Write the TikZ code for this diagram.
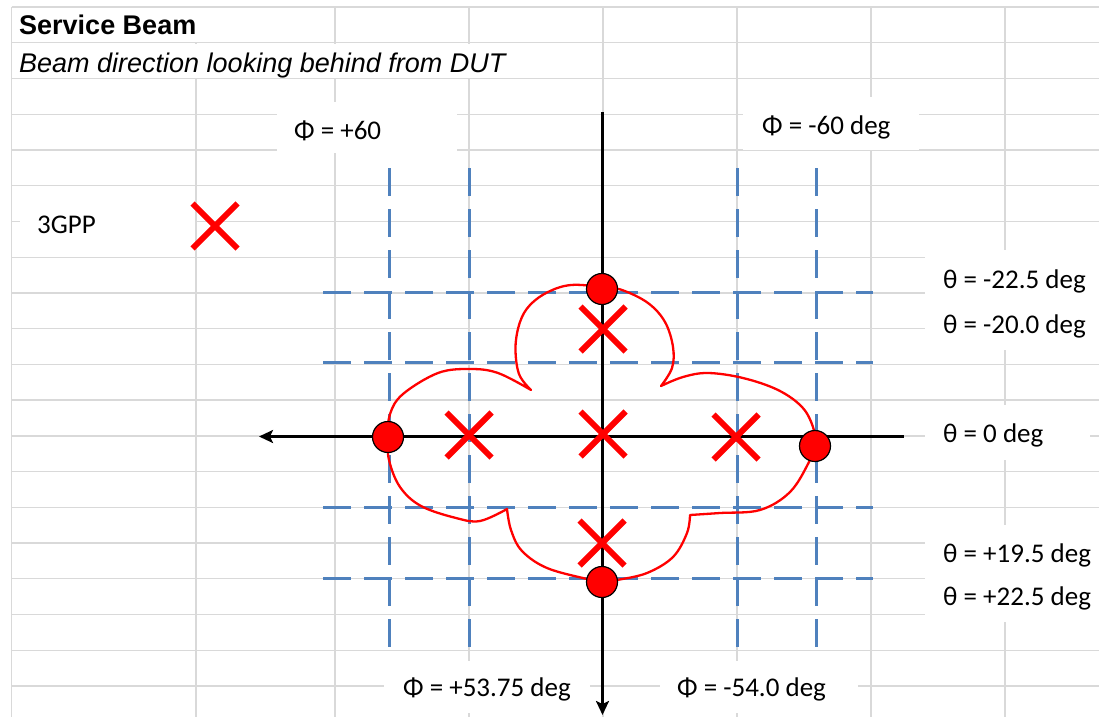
\documentclass[tikz,border=0pt]{standalone}
\usepackage{fontspec}
\setmainfont{Carlito}
\newfontfamily\arialf{Liberation Sans}
\usetikzlibrary{arrows.meta,shapes.misc}
\definecolor{gridgray}{RGB}{217,217,217}
\definecolor{beamblue}{RGB}{79,129,189}
\begin{document}
\begin{tikzpicture}[x=1pt,y=-1pt,
  gridline/.style={gridgray,line width=1.3pt},
  blank/.style={fill=white},
  lbl/.style={anchor=base west,inner sep=0pt,font=\fontsize{27}{30}\selectfont},
  beamline/.style={beamblue,line width=3pt,dash pattern=on 28pt off 13pt},
  axisline/.style={black,line width=2.5pt,-{Stealth[length=14pt,width=13pt,inset=3pt]}},
  cloudline/.style={red,line width=2.3pt,line join=round},
  xmark/.style={cross out,draw=red,line width=6pt,minimum size=39pt,inner sep=0pt},
  dot/.style={circle,fill=red,draw=black,line width=1.2pt,minimum size=31pt,inner sep=0pt}
]
\path[use as bounding box] (0,0) rectangle (1099,717);
\fill[white] (0,0) rectangle (1099,717);
% spreadsheet grid
\foreach \r in {0,...,19} \draw[gridline] (11.6,{7+35.74*\r}) -- (1099,{7+35.74*\r});
\foreach \c in {11.6,196,335,469,603,737,871,1005} \draw[gridline] (\c,7) -- (\c,717);
% cells covered by text
\fill[blank] (13,8.5) rectangle (334,42);
\fill[blank] (13,44) rectangle (602,78);
\fill[blank] (277,102) rectangle (457,153);
\fill[blank] (743,97) rectangle (919,150);
\fill[blank] (20,186.5) rectangle (195,255);
\fill[blank] (925,250) rectangle (1099,350);
\fill[blank] (925,405) rectangle (1090,460);
\fill[blank] (925,525) rectangle (1099,622);
\fill[blank] (384,661) rectangle (590,713);
\fill[blank] (660,661) rectangle (858,713);
% texts
\node[anchor=base west,inner sep=0pt,font=\arialf\bfseries\fontsize{27}{30}\selectfont] (title) at (19,35) {Service Beam};
\node[anchor=base west,inner sep=0pt,font=\arialf\itshape\fontsize{27}{30}\selectfont] (sub) at (19,72) {Beam direction looking behind from DUT};
\node[lbl] (l3gpp) at (37,233) {3GPP};
\node[lbl] (phiA) at (294,139) {Φ = +60};
\node[lbl] (phiB) at (762,134) {Φ = -60 deg};
\node[lbl] (thA) at (943,288) {θ = -22.5 deg};
\node[lbl] (thB) at (943,333) {θ = -20.0 deg};
\node[lbl] (thC) at (943,442) {θ = 0 deg};
\node[lbl] (thD) at (943,562) {θ = +19.5 deg};
\node[lbl] (thE) at (943,605) {θ = +22.5 deg};
\node[lbl] (phiC) at (403,696) {Φ = +53.75 deg};
\node[lbl] (phiD) at (677,696) {Φ = -54.0 deg};
% beam grid (dashed)
\foreach \x [count=\i] in {389,469,737,816} {
  \coordinate (vt\i) at (\x,168); \coordinate (vb\i) at (\x,648);
  \draw[beamline] (vt\i) -- (vb\i);
}
\foreach \y [count=\i] in {292,362,507,578} {
  \coordinate (hl\i) at (323,\y); \coordinate (hr\i) at (873,\y);
  \draw[beamline] (hl\i) -- (hr\i);
}
% axes
\coordinate (axR) at (904,436.5);
\coordinate (axL) at (259,436.5);
\coordinate (axT) at (602.5,112);
\coordinate (axB) at (602.5,715);
\draw[axisline] (axR) -- (axL);
\draw[axisline] (axT) -- (axB);
% beam contour
\draw[cloudline]
  plot[smooth,tension=0.6] coordinates {(531,390) (519,374) (515.5,347) (520,322) (530,305) (548,292) (571,285) (602,287) (622,290) (648,303) (665,322) (673,347) (672,368) (661,386)}
  -- plot[smooth,tension=0.6] coordinates {(661,386) (683,377) (708,373) (743,378) (778,390) (802,407) (813,427) (815,445) (809,462) (790,492) (760,510) (720,513) (690,515)}
  -- plot[smooth,tension=0.6] coordinates {(690,515) (687,533) (673,557) (647,573) (617,580) (602,582) (587,579) (547,568) (522,551) (511,530) (507,509)}
  -- plot[smooth,tension=0.6] coordinates {(507,509) (480,521) (456,518) (421,506) (400,487) (389,460) (388,437) (390,414) (403,394) (438,373) (470,369) (498,373) (531,390)}
  -- cycle;
% markers
\node[xmark] (x3gpp) at (215,226) {};
\node[xmark] (xT) at (603,329) {};
\node[xmark] (xL) at (469,435) {};
\node[xmark] (xC) at (603,434) {};
\node[xmark] (xR) at (736,437) {};
\node[xmark] (xB) at (602,543) {};
\node[dot] (cT) at (602,289) {};
\node[dot] (cL) at (388,437) {};
\node[dot] (cR) at (815,446) {};
\node[dot] (cB) at (602,582) {};
\end{tikzpicture}
\end{document}
